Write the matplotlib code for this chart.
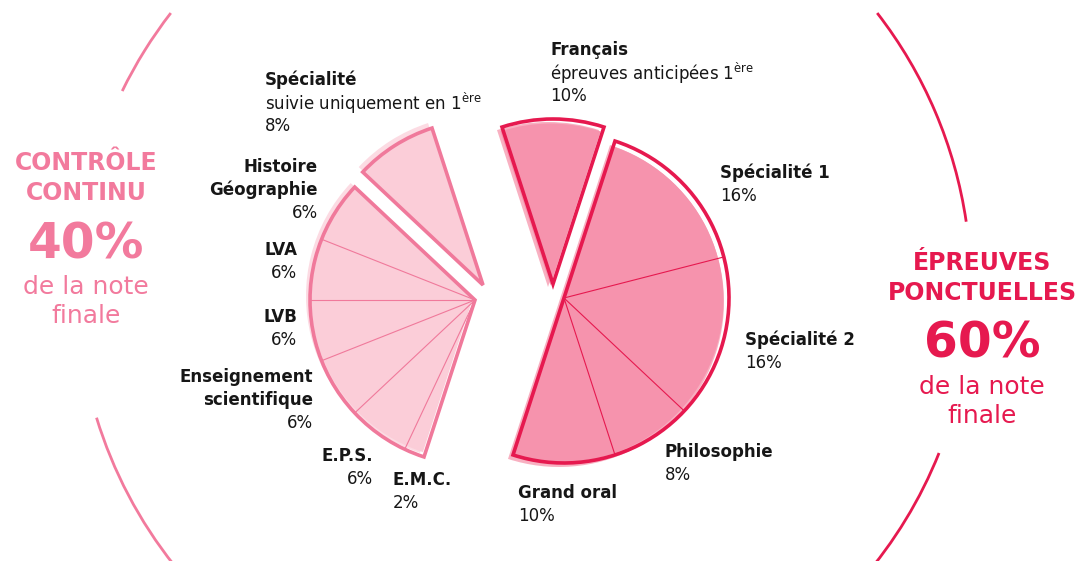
"""Répartition de la note du bac : contrôle continu vs épreuves ponctuelles."""

import numpy as np
import matplotlib

matplotlib.use("Agg")
import matplotlib.pyplot as plt
from matplotlib.patches import Wedge, Arc

# ---------------------------------------------------------------------------
# données (ordre horaire à partir de Français)
# ---------------------------------------------------------------------------
labels = ["Français", "Spécialité 1", "Spécialité 2", "Philosophie", "Grand oral",
          "E.M.C.", "E.P.S.", "Enseignement\nscientifique", "LVB", "LVA",
          "Histoire\nGéographie", "Spécialité"]
values = [10, 16, 16, 8, 10, 2, 6, 6, 6, 6, 6, 8]
groups = ["ponct"] * 5 + ["cc"] * 7
exploded = ["Français", "Spécialité"]
sublabels = {"Français": r"épreuves anticipées 1$^{\rm ère}$",
             "Spécialité": r"suivie uniquement en 1$^{\rm ère}$"}

cc_title = ["CONTRÔLE", "CONTINU"]
cc_share = 40
ponct_title = ["ÉPREUVES", "PONCTUELLES"]
ponct_share = 60

# ---------------------------------------------------------------------------
# mise en page (pixels, y vers le haut)
# ---------------------------------------------------------------------------
W, H = 1080, 561
START = 108.0
R = 165
CENTER = {"ponct": (564, 263), "cc": (475, 261)}
EXPLODE = {"Français": (-11, 14), "Spécialité": (8, 15)}
SHADOW = {"ponct": (-5, -4), "cc": (-4, 4), "Français": (-5, -3), "Spécialité": (-4, 5)}
STYLE = {
    "ponct": dict(fill="#f693ad", shadow="#f8b0c1", edge="#e6194f"),
    "cc": dict(fill="#fbcdd8", shadow="#fcdbe3", edge="#f0799b"),
}

# position du bloc de texte : (x, y de la 1re ligne en px image, alignement)
LABEL_POS = {
    "Français": (550, 50, "left"),
    "Spécialité 1": (720, 173, "left"),
    "Spécialité 2": (745, 340, "left"),
    "Philosophie": (665, 452, "left"),
    "Grand oral": (518, 493, "left"),
    "E.M.C.": (393, 480, "left"),
    "E.P.S.": (373, 456, "right"),
    "Enseignement\nscientifique": (313, 377, "right"),
    "LVB": (297, 317, "right"),
    "LVA": (297, 250, "right"),
    "Histoire\nGéographie": (318, 167, "right"),
    "Spécialité": (265, 80, "left"),
}
LINE = 23

plt.rcParams["font.family"] = ["DejaVu Sans"]
plt.rcParams["mathtext.fontset"] = "custom"
plt.rcParams["mathtext.rm"] = "DejaVu Sans"

fig = plt.figure(figsize=(W / 100, H / 100), dpi=100)
ax = fig.add_axes([0, 0, 1, 1])
ax.set_xlim(0, W)
ax.set_ylim(0, H)
ax.axis("off")


def iy(y_img):
    return H - y_img


# angles de chaque part (sens horaire)
cum = np.concatenate([[0], np.cumsum(values)[:-1]])
theta2 = START - cum * 3.6
theta1 = theta2 - np.array(values) * 3.6


def draw_block(center, t1, t2, st, shadow, inner_angles):
    cx, cy = center
    sx, sy = shadow
    ax.add_patch(Wedge((cx + sx, cy + sy), R, t1, t2, facecolor=st["shadow"],
                       edgecolor="none", zorder=1))
    ax.add_patch(Wedge((cx + sx / 2, cy + sy / 2), R - 3, t1, t2, facecolor=st["fill"],
                       edgecolor="none", zorder=2))
    for a in inner_angles:
        r = np.deg2rad(a)
        ax.plot([cx, cx + (R - 1) * np.cos(r)], [cy, cy + (R - 1) * np.sin(r)],
                color=st["edge"], lw=0.8, zorder=3)
    ax.add_patch(Wedge((cx, cy), R, t1, t2, facecolor="none", edgecolor=st["edge"],
                       lw=2.6, joinstyle="miter", zorder=4))


for g in ["cc", "ponct"]:
    idx = [i for i in range(len(labels)) if groups[i] == g and labels[i] not in exploded]
    t1 = min(theta1[i] for i in idx)
    t2 = max(theta2[i] for i in idx)
    inner = [theta2[i] for i in idx if theta2[i] < t2]
    draw_block(CENTER[g], t1, t2, STYLE[g], SHADOW[g], inner)

for name in exploded:
    i = labels.index(name)
    cx, cy = CENTER[groups[i]]
    ex, ey = EXPLODE[name]
    draw_block((cx + ex, cy + ey), theta1[i], theta2[i], STYLE[groups[i]], SHADOW[name], [])

# étiquettes
for name, v in zip(labels, values):
    x, y0, ha = LABEL_POS[name]
    lines = [(l, "bold") for l in name.split("\n")]
    if name in sublabels:
        lines.append((sublabels[name], "normal"))
    lines.append((f"{v}%", "normal"))
    for k, (txt, wt) in enumerate(lines):
        ax.text(x, iy(y0 + k * LINE), txt, ha=ha, va="center", fontsize=12,
                fontweight=wt, color="#161616", zorder=5)

# grands arcs
ARC_C = (524, iy(287))
ARC_R = 447
for t1, t2, col in [(154, 142.2, "#f27a9d"), (197, 240, "#f27a9d"),
                    (8.4, 37.8, "#e6194f"), (-60, -21.8, "#e6194f")]:
    lo, hi = min(t1, t2), max(t1, t2)
    ax.add_patch(Arc(ARC_C, 2 * ARC_R, 2 * ARC_R, theta1=lo, theta2=hi,
                     color=col, lw=2, zorder=1))


# titres latéraux
def side_text(xc, y_title, title, share, col):
    for k, t in enumerate(title):
        ax.text(xc, iy(y_title + k * 30), t, ha="center", va="center", fontsize=17,
                fontweight="bold", color=col)
    y = y_title + 30 * (len(title) - 1)
    ax.text(xc, iy(y + 51), f"{share}%", ha="center", va="center", fontsize=35,
            fontweight="bold", color=col)
    ax.text(xc, iy(y + 94), "de la note", ha="center", va="center", fontsize=18, color=col)
    ax.text(xc, iy(y + 123), "finale", ha="center", va="center", fontsize=18, color=col)


side_text(86, 163, cc_title, cc_share, "#f27a9d")
side_text(982, 263, ponct_title, ponct_share, "#e6194f")

fig.savefig("out.png", dpi=100)
